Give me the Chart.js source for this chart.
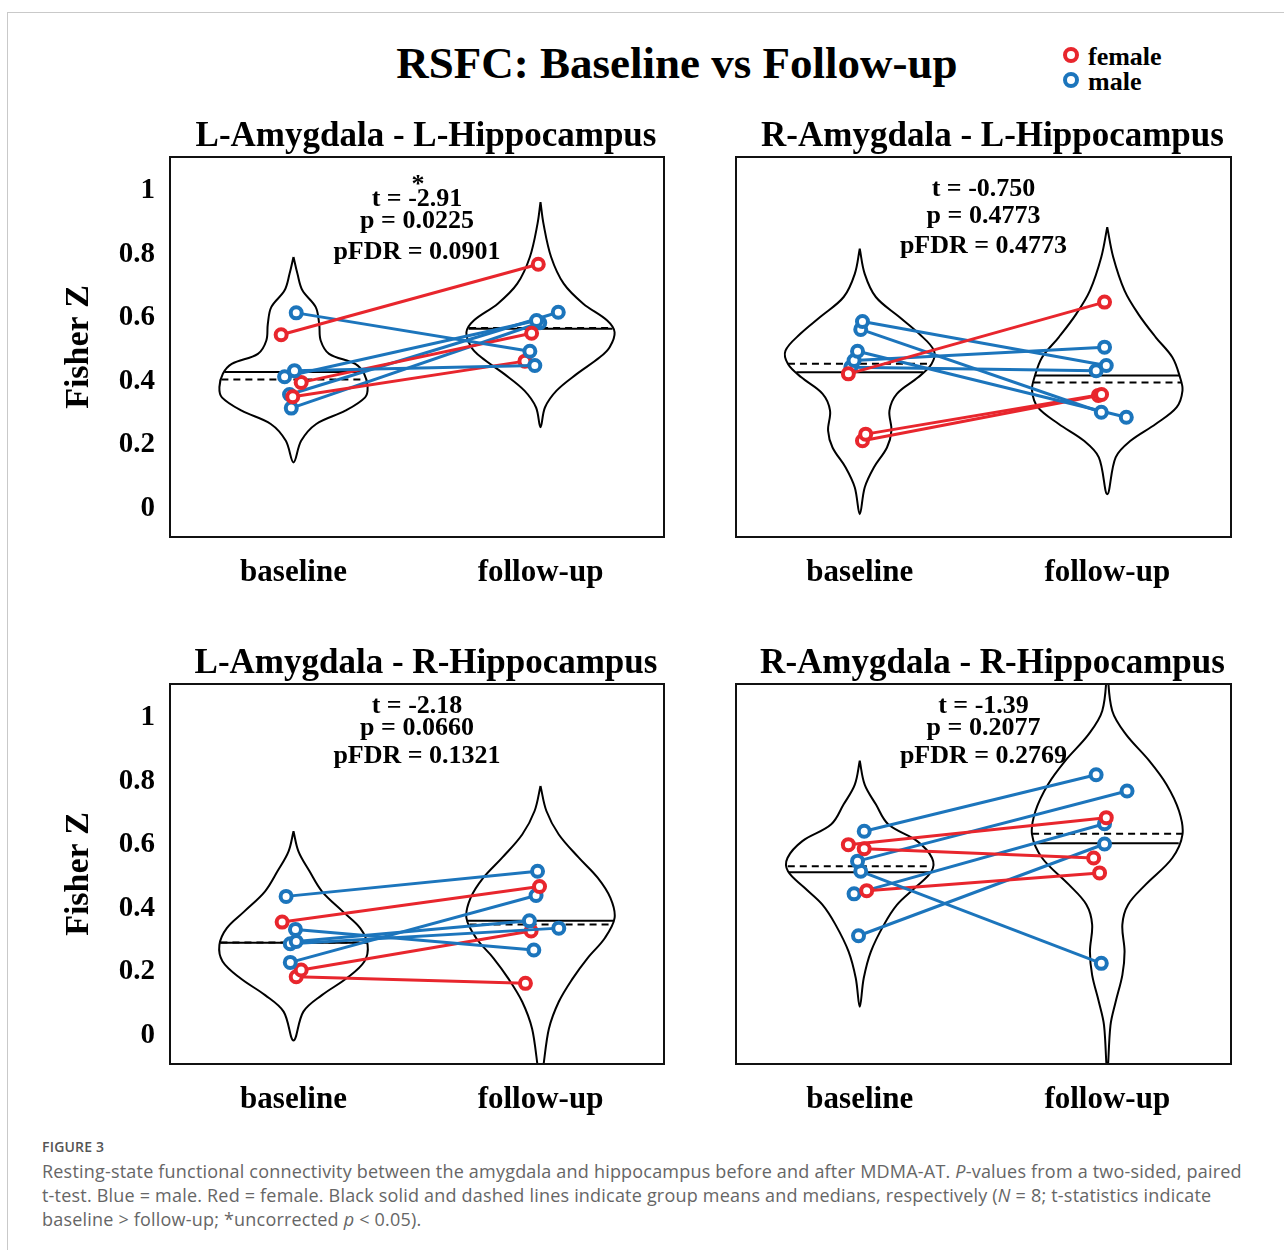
<!DOCTYPE html>
<html>
<head>
<meta charset="utf-8">
<script src="https://cdn.jsdelivr.net/npm/chart.js@4.4.0/dist/chart.umd.min.js"></script>
<style>
  body { margin: 0; background: #fff; width: 1284px; height: 1250px; position: relative; overflow: hidden; }
  #frame { position: absolute; left: 7px; top: 12px; width: 1300px; height: 1300px; border-top: 1px solid #c9c9c9; border-left: 1px solid #c9c9c9; }
  #title { position: absolute; left: 0; top: 36px; width: 1354px; text-align: center; font: bold 45px "Liberation Serif"; line-height: 54px; color: #000; }
  .leg { position: absolute; left: 1063px; height: 26px; font: bold 26px "Liberation Serif"; line-height: 26px; color: #000; }
  .leg span { display: inline-block; width: 8px; height: 8px; border-radius: 50%; border: 4px solid; margin-right: 9px; vertical-align: 2px; }
  canvas { position: absolute; }
  #figno { position: absolute; left: 42px; top: 1137px; font: 600 14px "Open Sans"; color: #555; letter-spacing: 0.2px; }
  #caption { position: absolute; left: 42px; top: 1159px; font: 18px "Open Sans"; line-height: 24px; color: #666; white-space: nowrap; letter-spacing: 0.2px; }
</style>
</head>
<body>
<div id="frame"></div>
<div id="title">RSFC: Baseline vs Follow-up</div>
<div class="leg" style="top:44px"><span style="border-color:#e8262d"></span>female</div>
<div class="leg" style="top:69px"><span style="border-color:#1c75bc"></span>male</div>

<canvas id="c1" width="640" height="510" style="left:40px;top:97px"></canvas>
<canvas id="c2" width="640" height="510" style="left:606px;top:97px"></canvas>
<canvas id="c3" width="640" height="510" style="left:40px;top:624px"></canvas>
<canvas id="c4" width="640" height="510" style="left:606px;top:624px"></canvas>

<div id="figno">FIGURE 3</div>
<div id="caption">Resting-state functional connectivity between the amygdala and hippocampus before and after MDMA-AT. <i>P</i>-values from a two-sided, paired<br>t-test. Blue = male. Red = female. Black solid and dashed lines indicate group means and medians, respectively (<i>N</i> = 8; t-statistics indicate<br>baseline &gt; follow-up; *uncorrected <i>p</i> &lt; 0.05).</div>

<script>
// Categories and axis ticks
const groups = ['baseline', 'follow-up'];
const yTicks = [0, 0.2, 0.4, 0.6, 0.8, 1];
const yTickLabels = ['0', '0.2', '0.4', '0.6', '0.8', '1'];

// L-Amygdala - L-Hippocampus (one entry per subject)
const llSex = ['f', 'm', 'm', 'f', 'f', 'm', 'm', 'm'];
const llBase = [0.547, 0.616, 0.434, 0.397, 0.352, 0.415, 0.359, 0.316];
const llFollow = [0.769, 0.495, 0.450, 0.552, 0.464, 0.592, 0.618, 0.585];
const llBaseJit = [-0.050, 0.011, 0.004, 0.031, -0.003, -0.036, -0.016, -0.009];
const llFollowJit = [-0.009, -0.043, -0.023, -0.036, -0.063, -0.016, 0.072, -0.003];
const llStats = ['t = -2.91', 'p = 0.0225', 'pFDR = 0.0901'];
// violin outlines: [Fisher Z, half width]
const llBaseViolin = [[0.792, 0], [0.739, 0.016], [0.687, 0.036], [0.634, 0.090], [0.581, 0.104], [0.529, 0.110], [0.487, 0.144], [0.455, 0.250], [0.424, 0.286], [0.382, 0.300], [0.350, 0.290], [0.308, 0.210], [0.266, 0.092], [0.213, 0.031], [0.145, 0]];
const llFollowViolin = [[0.965, 0], [0.897, 0.012], [0.792, 0.043], [0.708, 0.094], [0.645, 0.173], [0.592, 0.270], [0.555, 0.300], [0.508, 0.280], [0.476, 0.240], [0.423, 0.146], [0.371, 0.065], [0.318, 0.018], [0.256, 0]];

// R-Amygdala - L-Hippocampus
const rlSex = ['f', 'm', 'm', 'm', 'm', 'm', 'f', 'f'];
const rlBase = [0.424, 0.589, 0.564, 0.495, 0.466, 0.445, 0.234, 0.213];
const rlFollow = [0.650, 0.450, 0.303, 0.287, 0.508, 0.434, 0.359, 0.356];
const rlBaseJit = [-0.046, 0.011, 0.004, -0.009, -0.023, -0.036, 0.024, 0.011];
const rlFollowJit = [-0.011, -0.004, -0.024, 0.077, -0.011, -0.045, -0.023, -0.036];
const rlStats = ['t = -0.750', 'p = 0.4773', 'pFDR = 0.4773'];
const rlBaseViolin = [[0.818, 0], [0.739, 0.020], [0.666, 0.065], [0.603, 0.160], [0.550, 0.240], [0.497, 0.300], [0.455, 0.290], [0.413, 0.236], [0.361, 0.150], [0.308, 0.120], [0.245, 0.128], [0.192, 0.110], [0.129, 0.057], [0.066, 0.020], [-0.018, 0]];
const rlFollowViolin = [[0.886, 0], [0.792, 0.024], [0.686, 0.070], [0.613, 0.125], [0.539, 0.196], [0.476, 0.263], [0.413, 0.294], [0.371, 0.304], [0.318, 0.280], [0.266, 0.196], [0.213, 0.094], [0.161, 0.034], [0.045, 0]];

// L-Amygdala - R-Hippocampus
const lrSex = ['m', 'f', 'm', 'm', 'm', 'm', 'f', 'f'];
const lrBase = [0.438, 0.357, 0.334, 0.296, 0.289, 0.230, 0.206, 0.185];
const lrFollow = [0.517, 0.469, 0.269, 0.361, 0.338, 0.441, 0.329, 0.164];
const lrBaseJit = [-0.030, -0.046, 0.008, 0.011, -0.013, -0.013, 0.031, 0.011];
const lrFollowJit = [-0.012, -0.004, -0.027, -0.045, 0.074, -0.018, -0.038, -0.061];
const lrStats = ['t = -2.18', 'p = 0.0660', 'pFDR = 0.1321'];
const lrBaseViolin = [[0.643, 0], [0.580, 0.020], [0.517, 0.065], [0.454, 0.115], [0.390, 0.200], [0.338, 0.270], [0.285, 0.300], [0.233, 0.287], [0.180, 0.215], [0.127, 0.115], [0.075, 0.040], [-0.016, 0]];
const lrFollowViolin = [[0.786, 0], [0.707, 0.024], [0.633, 0.074], [0.560, 0.155], [0.496, 0.232], [0.433, 0.283], [0.370, 0.300], [0.306, 0.260], [0.243, 0.190], [0.179, 0.130], [0.106, 0.074], [0.021, 0.034], [-0.130, 0]];

// R-Amygdala - R-Hippocampus
const rrSex = ['m', 'f', 'f', 'm', 'm', 'f', 'm', 'm'];
const rrBase = [0.643, 0.601, 0.588, 0.549, 0.517, 0.456, 0.446, 0.314];
const rrFollow = [0.821, 0.686, 0.559, 0.770, 0.227, 0.512, 0.667, 0.603];
const rrBaseJit = [0.018, -0.046, 0.018, -0.009, 0.004, 0.028, -0.023, -0.005];
const rrFollowJit = [-0.045, -0.004, -0.055, 0.080, -0.024, -0.031, -0.011, -0.011];
const rrStats = ['t = -1.39', 'p = 0.2077', 'pFDR = 0.2769'];
const rrBaseViolin = [[0.865, 0], [0.790, 0.020], [0.728, 0.065], [0.665, 0.115], [0.612, 0.232], [0.559, 0.292], [0.517, 0.290], [0.465, 0.223], [0.412, 0.151], [0.349, 0.098], [0.264, 0.045], [0.180, 0.016], [0.090, 0]];
const rrFollowViolin = [[1.150, 0], [1.023, 0.020], [0.950, 0.074], [0.865, 0.170], [0.790, 0.240], [0.707, 0.290], [0.633, 0.304], [0.559, 0.263], [0.475, 0.155], [0.412, 0.084], [0.349, 0.061], [0.264, 0.070], [0.190, 0.061], [0.106, 0.034], [0.032, 0.013], [-0.120, 0]];

const sexColors = { f: '#e8262d', m: '#1c75bc' };
const serif = '"Liberation Serif", "Times New Roman", serif';

function mean(a) { return a.reduce((s, v) => s + v, 0) / a.length; }
function median(a) {
  const s = a.slice().sort((p, q) => p - q);
  const h = s.length / 2;
  return s.length % 2 ? s[Math.floor(h)] : (s[h - 1] + s[h]) / 2;
}
function halfWidthAt(profile, y) {
  for (let i = 0; i < profile.length - 1; i++) {
    const [y0, w0] = profile[i], [y1, w1] = profile[i + 1];
    if (y <= y0 && y >= y1) return w0 + (w1 - w0) * (y0 - y) / (y0 - y1);
  }
  return 0;
}
function violinOutline(profile, c) {
  const right = profile.map(([y, w]) => ({ x: c + w, y: y }));
  const left = profile.slice(0, -1).reverse().map(([y, w]) => ({ x: c - w, y: y }));
  return right.concat(left);
}
function statLine(values, profile, c, dash) {
  const m = dash ? median(values) : mean(values);
  const w = halfWidthAt(profile, m);
  return {
    data: [{ x: c - w, y: m }, { x: c + w, y: m }],
    showLine: true, borderColor: '#000', borderWidth: 2, borderDash: dash ? [7, 5] : [],
    pointRadius: 0, order: 2
  };
}

// Titles, stats text and the axes box
const panelText = {
  id: 'panelText',
  afterDraw(chart) {
    const o = chart.options.plugins.panelText;
    const a = chart.chartArea;
    const ctx = chart.ctx;
    const cx = (a.left + a.right) / 2;
    ctx.save();
    ctx.strokeStyle = '#111';
    ctx.lineWidth = 2;
    ctx.strokeRect(a.left, a.top, a.right - a.left, a.bottom - a.top);
    ctx.fillStyle = '#000';
    ctx.textAlign = 'center';
    ctx.textBaseline = 'middle';
    ctx.font = 'bold 35px ' + serif;
    ctx.fillText(o.title, cx + 9, a.top - 20);
    ctx.font = 'bold 26px ' + serif;
    if (o.star) ctx.fillText('*', cx + 1, a.top + 28);
    o.stats.forEach((s, i) => ctx.fillText(s, cx, a.top + o.offsets[i]));
    ctx.restore();
  }
};

function makePanel(id, cfg) {
  const datasets = [];
  cfg.sex.forEach((s, i) => {
    datasets.push({
      data: [{ x: 1 + cfg.baseJit[i], y: cfg.base[i] }, { x: 2 + cfg.followJit[i], y: cfg.follow[i] }],
      showLine: true, borderColor: sexColors[s], borderWidth: 3,
      pointRadius: 5.5, pointBorderWidth: 4, pointBackgroundColor: '#fff', pointBorderColor: sexColors[s],
      order: 1
    });
  });
  datasets.push(statLine(cfg.base, cfg.baseViolin, 1, false));
  datasets.push(statLine(cfg.base, cfg.baseViolin, 1, true));
  datasets.push(statLine(cfg.follow, cfg.followViolin, 2, false));
  datasets.push(statLine(cfg.follow, cfg.followViolin, 2, true));
  [[cfg.baseViolin, 1], [cfg.followViolin, 2]].forEach(([p, c]) => {
    datasets.push({
      data: violinOutline(p, c), showLine: true, borderColor: '#000', borderWidth: 2,
      pointRadius: 0, tension: 0.35, order: 3
    });
  });

  new Chart(document.getElementById(id), {
    type: 'scatter',
    data: { datasets: datasets },
    plugins: [panelText],
    options: {
      responsive: false,
      animation: false,
      devicePixelRatio: 1,
      layout: { padding: { top: 60, right: cfg.right, left: 0, bottom: 0 } },
      plugins: {
        legend: { display: false },
        tooltip: { enabled: false },
        panelText: { title: cfg.title, stats: cfg.stats, offsets: cfg.offsets, star: cfg.star }
      },
      scales: {
        x: {
          type: 'linear', min: 0.5, max: 2.5,
          grid: { display: false, drawTicks: false }, border: { display: false },
          afterBuildTicks: s => { s.ticks = [{ value: 1 }, { value: 2 }]; },
          afterFit: s => { s.height = 70; },
          ticks: {
            callback: v => groups[v - 1], autoSkip: false, maxRotation: 0,
            color: '#000', padding: 17, font: { family: serif, weight: 'bold', size: 31 }
          }
        },
        y: {
          type: 'linear', min: -0.09, max: 1.107,
          grid: { display: false, drawTicks: false }, border: { display: false },
          afterBuildTicks: s => { s.ticks = yTicks.map(v => ({ value: v })); },
          afterFit: s => { s.width = 130; },
          ticks: {
            display: cfg.showY, color: '#000', padding: 15,
            callback: v => yTickLabels[yTicks.indexOf(v)],
            font: { family: serif, weight: 'bold', size: 29 }
          },
          title: {
            display: cfg.showY, text: 'Fisher Z', color: '#000',
            padding: { top: 19, bottom: 0 },
            font: { family: serif, weight: 'bold', size: 34 }
          }
        }
      }
    }
  });
}

makePanel('c1', {
  title: 'L-Amygdala - L-Hippocampus', sex: llSex, base: llBase, follow: llFollow,
  baseJit: llBaseJit, followJit: llFollowJit, baseViolin: llBaseViolin, followViolin: llFollowViolin,
  stats: llStats, offsets: [42, 64, 95], star: true, showY: true, right: 16
});
makePanel('c2', {
  title: 'R-Amygdala - L-Hippocampus', sex: rlSex, base: rlBase, follow: rlFollow,
  baseJit: rlBaseJit, followJit: rlFollowJit, baseViolin: rlBaseViolin, followViolin: rlFollowViolin,
  stats: rlStats, offsets: [32, 59, 89], star: false, showY: false, right: 15
});
makePanel('c3', {
  title: 'L-Amygdala - R-Hippocampus', sex: lrSex, base: lrBase, follow: lrFollow,
  baseJit: lrBaseJit, followJit: lrFollowJit, baseViolin: lrBaseViolin, followViolin: lrFollowViolin,
  stats: lrStats, offsets: [22, 44, 72], star: false, showY: true, right: 16
});
makePanel('c4', {
  title: 'R-Amygdala - R-Hippocampus', sex: rrSex, base: rrBase, follow: rrFollow,
  baseJit: rrBaseJit, followJit: rrFollowJit, baseViolin: rrBaseViolin, followViolin: rrFollowViolin,
  stats: rrStats, offsets: [22, 44, 72], star: false, showY: false, right: 15
});
</script>
</body>
</html>
